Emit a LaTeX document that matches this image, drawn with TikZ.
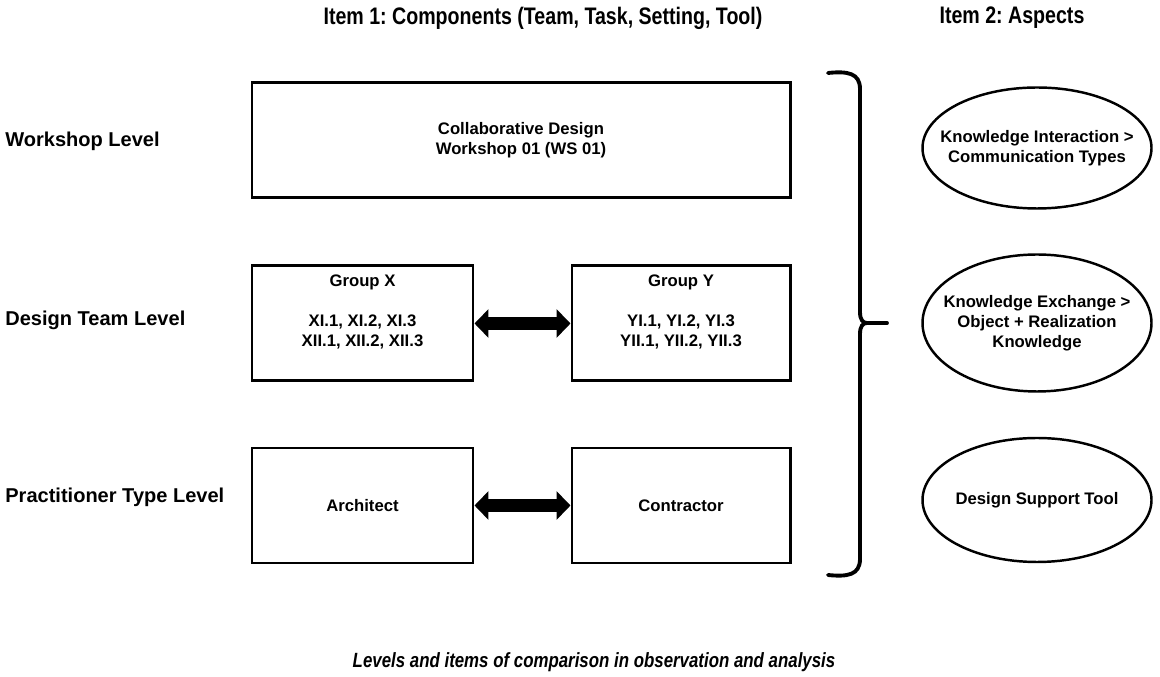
\documentclass[tikz,border=0pt]{standalone}
\usepackage{fontspec}
\setmainfont{Liberation Sans}
\newfontfamily\narrowfont[FakeStretch=0.82]{Liberation Sans}
\usetikzlibrary{arrows.meta, positioning, shapes.geometric}
\definecolor{Ink}{HTML}{000000}
\definecolor{Paper}{HTML}{FFFFFF}
\frenchspacing

\begin{document}
\begin{tikzpicture}[
  heading/.style={
    text=Ink,
    inner sep=0pt,
    font=\narrowfont\bfseries\fontsize{13.6}{16}\selectfont
  },
  level/.style={
    anchor=west,
    text=Ink,
    inner sep=0pt,
    font=\bfseries\fontsize{11.4}{13.5}\selectfont
  },
  stage/.style={
    draw=Ink,
    line width=1.7pt,
    fill=Paper,
    align=center,
    text=Ink,
    minimum height=2.3cm,
    font=\bfseries\fontsize{9.5}{11.4}\selectfont
  },
  stagetext/.style={
    align=center,
    text=Ink,
    inner sep=0pt,
    font=\bfseries\fontsize{9.5}{11.4}\selectfont
  },
  aspect/.style={
    ellipse,
    draw=Ink,
    line width=1.4pt,
    fill=Paper,
    align=center,
    text=Ink,
    inner xsep=-0.35cm,
    inner ysep=0pt,
    minimum width=4.58cm,
    font=\bfseries\fontsize{9.5}{11.4}\selectfont
  },
  twoway/.style={
    {Triangle[length=2.8mm,width=5.6mm]}-{Triangle[length=2.8mm,width=5.6mm]},
    line width=7.2pt,
    draw=Ink
  },
  brace/.style={
    draw=Ink,
    line width=2.2pt,
    line cap=round
  },
  caption/.style={
    text=Ink,
    inner sep=0pt,
    font=\narrowfont\bfseries\itshape\fontsize{11.7}{14}\selectfont
  }
]

\fill[Paper] (0,0) rectangle (23.2,13.54);
\useasboundingbox (0,0) rectangle (23.2,13.54);

\node[heading] (items) at (10.86,13.18) {Item 1: Components (Team, Task, Setting, Tool)};
\node[heading] (aspects) at (20.24,13.18) {Item 2: Aspects};

\node[level] (wslevel) at (0.1,10.72) {Workshop Level};
\node[level] (teamlevel) at (0.1,7.14) {Design Team Level};
\node[level] (typelevel) at (0.1,3.60) {Practitioner Type Level};

\node[stage, minimum width=10.76cm] (ws) at (10.42,10.74)
  {Collaborative Design\\Workshop 01 (WS 01)};

\node[stage, minimum width=4.42cm] (gx) at (7.25,7.07) {};
\node[stage, minimum width=4.36cm] (gy) at (13.62,7.07) {};
\node[stagetext, below=0.2cm of gx.north] (gxtext)
  {Group X\\[11.3pt]XI.1, XI.2, XI.3\\XII.1, XII.2, XII.3};
\node[stagetext, below=0.2cm of gy.north] (gytext)
  {Group Y\\[11.3pt]YI.1, YI.2, YI.3\\YII.1, YII.2, YII.3};

\node[stage, minimum width=4.42cm] (arch) at (7.25,3.43) {Architect};
\node[stage, minimum width=4.36cm] (con) at (13.62,3.43) {Contractor};

\draw[twoway] (gx.east) -- (gy.west);
\draw[twoway] (arch.east) -- (con.west);

% brace
\draw[brace] (16.56,12.08) .. controls (16.95,12.12) and (17.2,12.08) .. (17.2,11.76)
  -- (17.2,7.3) .. controls (17.2,7.14) and (17.26,7.08) .. (17.34,7.08)
  .. controls (17.26,7.08) and (17.2,7.02) .. (17.2,6.86)
  -- (17.2,2.36) .. controls (17.2,2.04) and (16.95,2.0) .. (16.56,2.04);
\draw[brace] (17.34,7.08) -- (17.74,7.08);

\node[aspect, minimum height=2.42cm] (interaction) at (20.74,10.58)
  {Knowledge Interaction >\\Communication Types};
\node[aspect, minimum height=2.74cm] (exchange) at (20.74,7.08)
  {Knowledge Exchange >\\Object + Realization\\Knowledge};
\node[aspect, minimum height=2.48cm] (tool) at (20.74,3.54)
  {Design Support Tool};

\node[caption] (cap) at (11.88,0.3)
  {Levels and items of comparison in observation and analysis};

\end{tikzpicture}
\end{document}
